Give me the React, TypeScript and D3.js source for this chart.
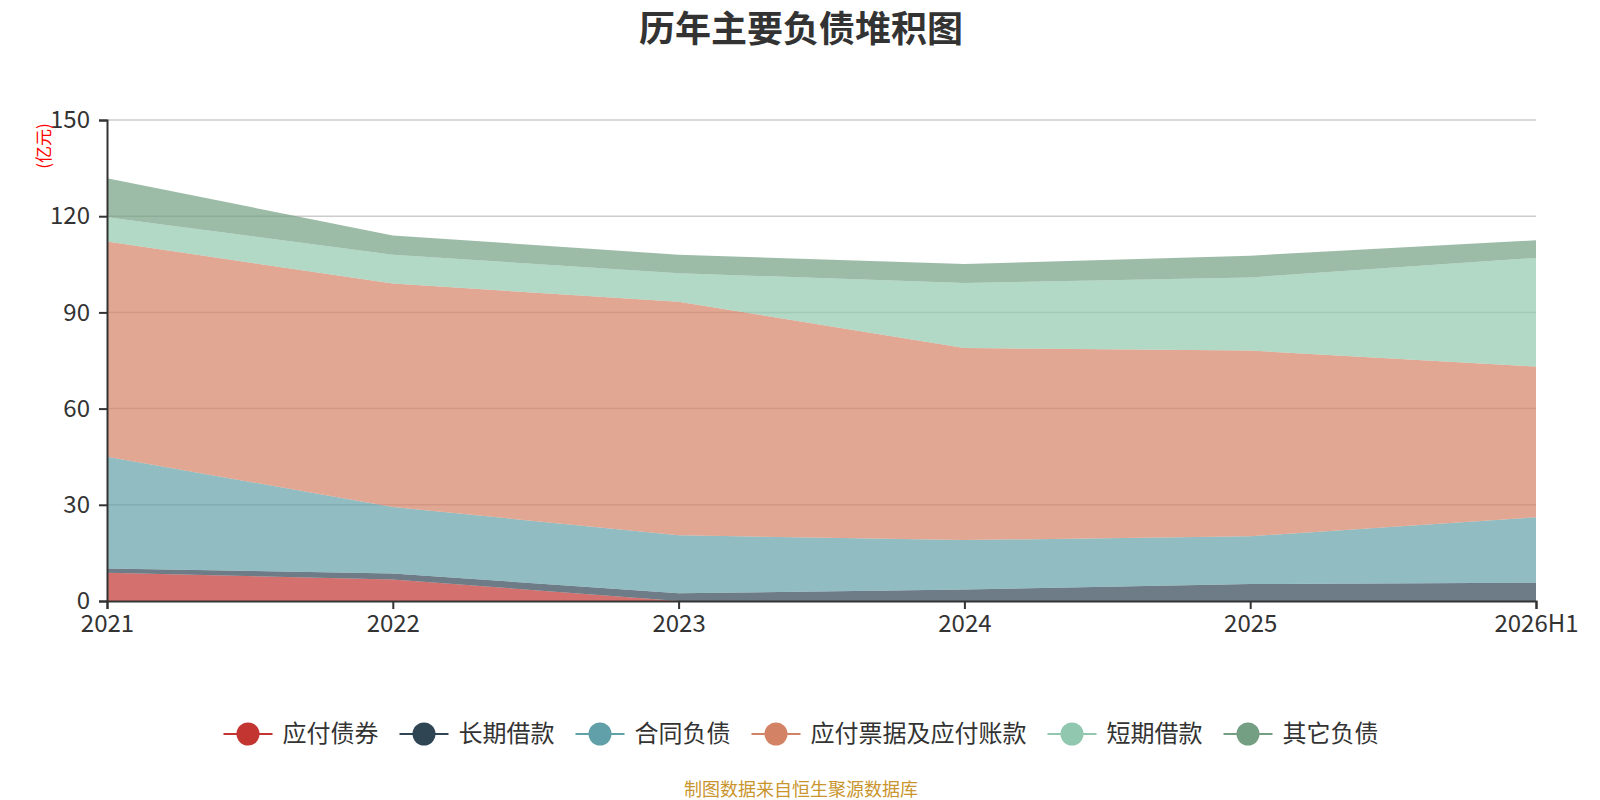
import { useRef, useEffect } from "react";
import * as d3 from "d3";

const categories: string[] = ["2021", "2022", "2023", "2024", "2025", "2026H1"];
const seriesNames: string[] = ["应付债券", "长期借款", "合同负债", "应付票据及应付账款", "短期借款", "其它负债"];
const seriesColors: string[] = ["#c23531", "#2f4554", "#61a0a8", "#d48265", "#91c7ae", "#749f83"];

// values in 亿元
const bonds: number[] = [8.8, 6.7, 0, 0, 0, 0];
const longLoans: number[] = [1.3, 1.9, 2.4, 3.6, 5.3, 5.7];
const contractLiab: number[] = [34.9, 20.7, 18.1, 15.4, 14.9, 20.4];
const payables: number[] = [67.1, 69.7, 72.8, 59.9, 57.9, 47.0];
const shortLoans: number[] = [7.6, 9.0, 8.9, 20.3, 22.8, 33.9];
const otherLiab: number[] = [12.1, 6.0, 5.8, 5.9, 6.8, 5.5];
const yTicks: number[] = [0, 30, 60, 90, 120, 150];

const FONT = "'Noto Sans CJK SC', 'Noto Sans', sans-serif";

export default function App() {
    const svgRef = useRef<SVGSVGElement | null>(null);

    useEffect(() => {
        if (!svgRef.current) return;
        const width = 1600;
        const height = 800;
        const margin = { top: 120, right: 64, bottom: 199, left: 107 };
        const cx = 801;

        const svg = d3.select(svgRef.current);
        svg.selectAll("*").remove();

        const allSeries = [bonds, longLoans, contractLiab, payables, shortLoans, otherLiab];
        const table = categories.map((c, i) => {
            const row: any = { cat: c };
            seriesNames.forEach((name, k) => { row[name] = allSeries[k][i]; });
            return row;
        });

        const xScale = d3.scalePoint<string>()
            .domain(categories)
            .range([margin.left, width - margin.right]);
        const yScale = d3.scaleLinear()
            .domain([0, 150])
            .range([height - margin.bottom, margin.top]);

        // title
        svg.append("text")
            .attr("x", cx).attr("y", 42)
            .attr("text-anchor", "middle")
            .style("font-family", FONT)
            .style("font-size", "36px")
            .style("font-weight", "bold")
            .style("fill", "#333")
            .text("历年主要负债堆积图");

        // grid
        svg.append("g").selectAll("line")
            .data(yTicks.filter(t => t > 0))
            .join("line")
            .attr("x1", margin.left).attr("x2", width - margin.right)
            .attr("y1", d => yScale(d)).attr("y2", d => yScale(d))
            .attr("stroke", "#ccc")
            .attr("stroke-width", 1.5);

        // stacked areas
        const stack = d3.stack<any>().keys(seriesNames);
        const stacked = stack(table);
        const area = d3.area<any>()
            .x((d: any) => xScale(d.data.cat) as number)
            .y0((d: any) => yScale(d[0]))
            .y1((d: any) => yScale(d[1]));

        svg.append("g").selectAll("path")
            .data(stacked)
            .join("path")
            .attr("d", area as any)
            .attr("fill", (_d, i) => seriesColors[i])
            .attr("fill-opacity", 0.7);

        // y axis
        const yAxis = d3.axisLeft(yScale).tickValues(yTicks).tickSize(8).tickPadding(9);
        const gy = svg.append("g")
            .attr("transform", `translate(${margin.left},0)`)
            .call(yAxis);
        gy.select(".domain").attr("stroke", "#333").attr("stroke-width", 2);
        gy.selectAll(".tick line").attr("stroke", "#333").attr("stroke-width", 2);
        gy.selectAll(".tick text")
            .style("font-family", FONT)
            .style("font-size", "24px")
            .style("fill", "#333");

        // x axis
        const xAxis = d3.axisBottom(xScale).tickSize(8).tickPadding(6);
        const gx = svg.append("g")
            .attr("transform", `translate(0,${height - margin.bottom})`)
            .call(xAxis);
        gx.select(".domain").attr("stroke", "#333").attr("stroke-width", 2);
        gx.selectAll(".tick line").attr("stroke", "#333").attr("stroke-width", 2);
        gx.selectAll(".tick text")
            .style("font-family", FONT)
            .style("font-size", "24px")
            .style("fill", "#333");

        // unit label
        svg.append("text")
            .attr("transform", "translate(50,146) rotate(-90)")
            .attr("text-anchor", "middle")
            .style("font-family", FONT)
            .style("font-size", "17px")
            .style("fill", "red")
            .text("(亿元)");

        // legend
        const charW = 24;
        const iconW = 49;
        const itemWidths = seriesNames.map(n => iconW + 10 + n.length * charW);
        const gap = 21;
        const total = d3.sum(itemWidths) + gap * (seriesNames.length - 1);
        let cursor = cx - total / 2;
        const legend = svg.append("g");
        seriesNames.forEach((name, i) => {
            const g = legend.append("g").attr("transform", `translate(${cursor},734)`);
            g.append("line")
                .attr("x1", 0).attr("x2", iconW)
                .attr("stroke", seriesColors[i]).attr("stroke-width", 2);
            g.append("circle")
                .attr("cx", iconW / 2).attr("r", 11.5)
                .attr("fill", seriesColors[i]);
            g.append("text")
                .attr("x", iconW + 10).attr("dy", "0.35em")
                .style("font-family", FONT)
                .style("font-size", "24px")
                .style("fill", "#333")
                .text(name);
            cursor += itemWidths[i] + gap;
        });

        // source
        svg.append("text")
            .attr("x", cx).attr("y", 796)
            .attr("text-anchor", "middle")
            .style("font-family", FONT)
            .style("font-size", "18px")
            .style("fill", "#c9952e")
            .text("制图数据来自恒生聚源数据库");
    }, []);

    return (
        <div style={{ position: "absolute", left: 0, top: 0, width: 1600, height: 800, background: "#fff" }}>
            <svg ref={svgRef} width={1600} height={800}></svg>
        </div>
    );
}
